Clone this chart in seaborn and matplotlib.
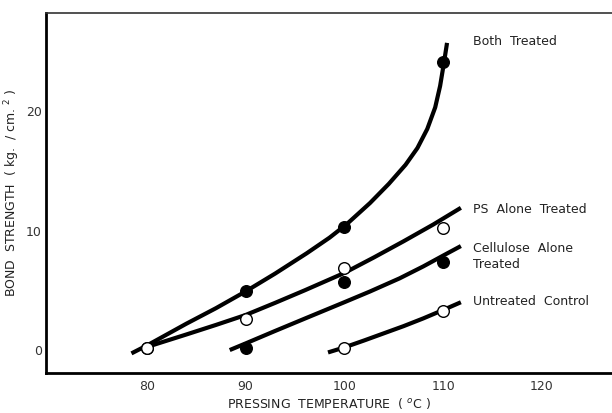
import matplotlib
matplotlib.use("Agg")
import matplotlib.pyplot as plt
import seaborn as sns
import pandas as pd

# ---- measured points ----
both_x = [80, 90, 100, 110]
both_y = [0.2, 4.9, 10.3, 24.1]
ps_x = [80, 90, 100, 110]
ps_y = [0.2, 2.6, 6.9, 10.2]
cell_x = [90, 100, 110]
cell_y = [0.2, 5.7, 7.4]
untr_x = [100, 110]
untr_y = [0.2, 3.3]

# ---- hand-drawn curves ----
both_cx = [78.45, 80.1, 84.0, 87.0, 90.0, 93.0, 96.2, 98.5, 100.2, 102.6,
           104.5, 106.2, 107.4, 108.4, 109.2, 109.7, 110.1, 110.4]
both_cy = [-0.28, 0.42, 2.2, 3.5, 4.9, 6.4, 8.1, 9.4, 10.5, 12.3,
           13.9, 15.5, 16.9, 18.5, 20.3, 22.1, 24.1, 25.7]
ps_cx = [80.1, 84.0, 87.0, 90.0, 93.0, 96.0, 100.0, 103.0, 106.0, 109.0, 111.8]
ps_cy = [0.28, 1.3, 2.1, 2.93, 3.95, 5.0, 6.45, 7.75, 9.1, 10.5, 11.9]
cell_cx = [88.4, 90.0, 93.0, 96.2, 100.0, 102.6, 105.6, 108.0, 110.0, 111.8]
cell_cy = [0.0, 0.55, 1.6, 2.7, 4.0, 4.9, 6.0, 7.0, 7.9, 8.7]
untr_cx = [98.35, 100.0, 102.0, 104.0, 106.0, 108.0, 110.0, 111.8]
untr_cy = [-0.2, 0.22, 0.8, 1.4, 2.0, 2.65, 3.35, 4.0]

labels = ["Both  Treated", "PS  Alone  Treated", "Cellulose  Alone\nTreated", "Untreated  Control"]
label_y = [25.8, 11.8, 7.8, 4.1]
xticks = [80, 90, 100, 110, 120]
yticks = [0, 10, 20]

sns.set_style("white")
plt.rcParams["font.family"] = ["Liberation Sans Narrow", "DejaVu Sans"]

fig = plt.figure(figsize=(6.12, 4.13), dpi=100)
ax = fig.add_axes([46 / 612, 1 - 373 / 413, 1 - 46 / 612, (373 - 13) / 413])

curves = [(both_cx, both_cy), (ps_cx, ps_cy), (cell_cx, cell_cy), (untr_cx, untr_cy)]
for cx, cy in curves:
    df = pd.DataFrame({"x": cx, "y": cy})
    sns.lineplot(data=df, x="x", y="y", ax=ax, sort=False, estimator=None,
                 color="black", linewidth=3.0, zorder=2)
for line in ax.lines:
    line.set_solid_joinstyle("round")
    line.set_solid_capstyle("butt")

pts = [(both_x, both_y, "black"), (ps_x, ps_y, "white"),
       (cell_x, cell_y, "black"), (untr_x, untr_y, "white")]
for px, py, fc in pts:
    df = pd.DataFrame({"x": px, "y": py})
    sns.scatterplot(data=df, x="x", y="y", ax=ax, s=70, color=fc,
                    edgecolor="black", linewidth=1.0, zorder=3)

for lab, ly in zip(labels, label_y):
    ax.text(113.0, ly, lab, fontsize=9, va="center", ha="left",
            linespacing=1.3, color="#222222")

ax.set_xlim(69.8, 127.1)
ax.set_ylim(-1.92, 28.2)
ax.set_xticks(xticks)
ax.set_yticks(yticks)
ax.tick_params(direction="in", length=8, width=1.2, labelsize=9,
               colors="black", labelcolor="#333333", pad=5)
ax.tick_params(axis="y", pad=3)
ax.set_xlabel("PRESSING  TEMPERATURE  ( $^{o}$C )", fontsize=9, labelpad=2,
              color="#222222")
ax.set_ylabel("BOND  STRENGTH  ( kg.  / cm. $^{2}$ )", fontsize=9, labelpad=3,
              color="#222222")

for s in ["left", "bottom"]:
    ax.spines[s].set_linewidth(2.0)
    ax.spines[s].set_color("black")
ax.spines["top"].set_linewidth(1.2)
ax.spines["top"].set_color("#333333")
ax.spines["right"].set_visible(False)

fig.savefig("out.png", dpi=100)
